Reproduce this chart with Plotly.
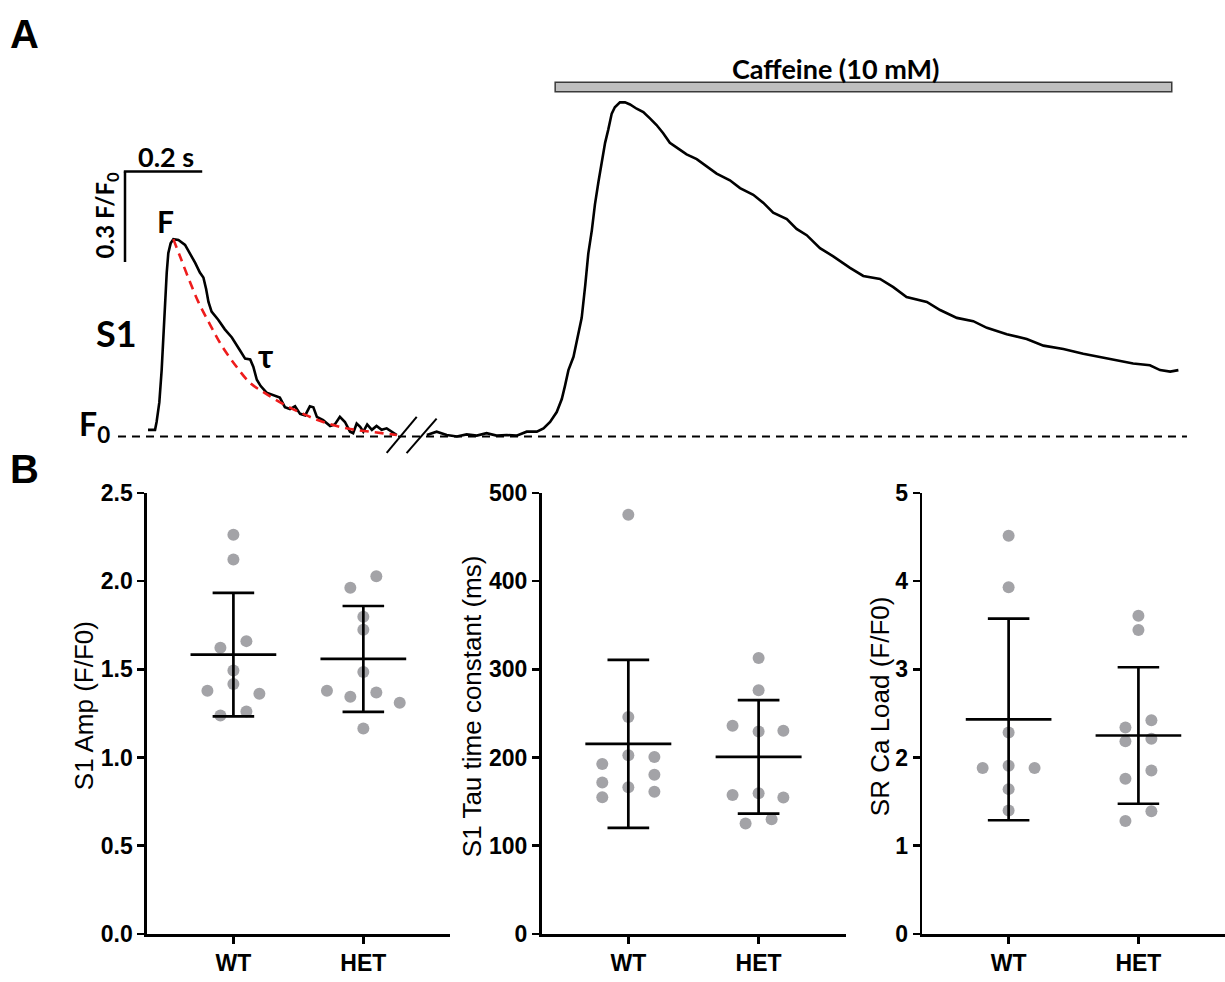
import plotly.graph_objects as go

W, H = 1225, 982

# ---------------- Panel A data (time in s, fluorescence F/F0) ----------------
s1_t = [0.000, 0.018, 0.022, 0.029, 0.035, 0.039, 0.044, 0.048, 0.052, 0.058,
        0.065, 0.078, 0.095, 0.108, 0.121, 0.133, 0.142, 0.149, 0.155, 0.163,
        0.180, 0.197, 0.215, 0.236, 0.249, 0.262, 0.270, 0.279, 0.289, 0.304,
        0.321, 0.338, 0.351, 0.364, 0.377, 0.390, 0.403, 0.415, 0.424, 0.433,
        0.449, 0.467, 0.479, 0.492, 0.505, 0.518, 0.526, 0.535, 0.544, 0.552,
        0.562, 0.574, 0.586, 0.599, 0.612, 0.625, 0.638]
s1_f = [1.022, 1.022, 1.048, 1.113, 1.220, 1.328, 1.435, 1.543, 1.607, 1.640,
        1.654, 1.651, 1.635, 1.607, 1.575, 1.543, 1.527, 1.489, 1.446, 1.414,
        1.387, 1.355, 1.328, 1.285, 1.258, 1.255, 1.231, 1.188, 1.167, 1.145,
        1.136, 1.129, 1.097, 1.091, 1.100, 1.075, 1.070, 1.100, 1.097, 1.065,
        1.054, 1.035, 1.040, 1.065, 1.048, 1.016, 1.011, 1.043, 1.032, 1.016,
        1.040, 1.022, 1.035, 1.022, 1.027, 1.016, 1.005]

fit_t = [0.065, 0.082, 0.103, 0.129, 0.159, 0.189, 0.227, 0.262, 0.296, 0.347,
         0.398, 0.449, 0.509, 0.569, 0.638]
fit_f = [1.654, 1.597, 1.527, 1.446, 1.371, 1.301, 1.231, 1.177, 1.147, 1.107,
         1.075, 1.048, 1.027, 1.016, 1.005]

caf_t = [0.715, 0.740, 0.766, 0.792, 0.817, 0.843, 0.868, 0.894, 0.920, 0.945,
         0.971, 0.997, 1.014, 1.031, 1.048, 1.061, 1.069, 1.078, 1.091, 1.103,
         1.112, 1.121, 1.129, 1.138, 1.146, 1.155, 1.163, 1.172, 1.180, 1.189,
         1.197, 1.210, 1.223, 1.236, 1.253, 1.270, 1.287, 1.304, 1.321, 1.338,
         1.356, 1.381, 1.407, 1.433, 1.458, 1.492, 1.518, 1.552, 1.578, 1.603,
         1.638, 1.663, 1.689, 1.723, 1.757, 1.800, 1.834, 1.877, 1.911, 1.945,
         1.997, 2.031, 2.074, 2.116, 2.151, 2.202, 2.253, 2.296, 2.347, 2.398,
         2.441, 2.484, 2.526, 2.569, 2.595, 2.621, 2.642]
caf_f = [1.005, 1.016, 1.005, 1.000, 1.007, 1.003, 1.011, 1.003, 1.005, 1.003,
         1.016, 1.016, 1.027, 1.048, 1.081, 1.124, 1.167, 1.220, 1.264, 1.339,
         1.393, 1.500, 1.607, 1.683, 1.769, 1.844, 1.909, 1.973, 2.016, 2.070,
         2.091, 2.107, 2.107, 2.100, 2.086, 2.075, 2.054, 2.032, 2.005, 1.973,
         1.957, 1.935, 1.919, 1.893, 1.871, 1.849, 1.823, 1.801, 1.774, 1.742,
         1.720, 1.688, 1.667, 1.624, 1.597, 1.559, 1.532, 1.522, 1.495, 1.462,
         1.446, 1.419, 1.393, 1.382, 1.360, 1.339, 1.323, 1.301, 1.290, 1.274,
         1.264, 1.253, 1.242, 1.236, 1.220, 1.215, 1.220]

# ---------------- Panel B data ----------------
groups = ["WT", "HET"]

amp_wt = [2.263, 2.123, 1.660, 1.623, 1.494, 1.417, 1.379, 1.362, 1.261, 1.239]
amp_het = [2.028, 1.963, 1.798, 1.724, 1.485, 1.379, 1.369, 1.344, 1.311, 1.164]
amp_wt_jit = [0, 0, 0.1, -0.1, 0, 0, -0.2, 0.2, 0.1, -0.1]
amp_het_jit = [0.1, -0.1, 0, 0, 0, -0.28, 0.1, -0.1, 0.28, 0]
amp_mean = [1.583, 1.559]
amp_sd = [0.350, 0.300]

tau_wt = [475.4, 246.0, 202.5, 200.7, 192.6, 180.4, 171.6, 166.4, 161.3, 155.0]
tau_het = [313.0, 276.2, 236.0, 230.5, 229.4, 159.4, 157.6, 154.6, 130.0, 125.2]
tau_wt_jit = [0, 0, 0, 0.2, -0.2, 0.2, -0.2, 0, 0.2, -0.2]
tau_het_jit = [0, 0, -0.2, 0.19, 0, 0, -0.2, 0.19, 0.1, -0.1]
tau_mean = [215.5, 200.8]
tau_sd = [95.2, 64.3]

load_wt = [4.514, 3.932, 2.283, 1.907, 1.881, 1.881, 1.642, 1.399]
load_het = [3.608, 3.446, 2.423, 2.342, 2.213, 2.184, 1.852, 1.760, 1.392, 1.281]
load_wt_jit = [0, 0, 0, 0, -0.2, 0.2, 0, 0]
load_het_jit = [0, 0, 0.1, -0.1, 0.1, -0.1, 0.1, -0.1, 0.1, -0.1]
load_mean = [2.432, 2.250]
load_sd = [1.143, 0.774]

panels = [
    dict(wt=amp_wt, het=amp_het, wj=amp_wt_jit, hj=amp_het_jit, mean=amp_mean, sd=amp_sd,
         yrange=[0, 2.5], dtick=0.5, fmt=".1f", title="S1 Amp (F/F0)"),
    dict(wt=tau_wt, het=tau_het, wj=tau_wt_jit, hj=tau_het_jit, mean=tau_mean, sd=tau_sd,
         yrange=[0, 500], dtick=100, fmt="d", title="S1 Tau time constant (ms)"),
    dict(wt=load_wt, het=load_het, wj=load_wt_jit, hj=load_het_jit, mean=load_mean, sd=load_sd,
         yrange=[0, 5], dtick=1, fmt="d", title="SR Ca Load (F/F0)"),
]

# ---------------- helpers for layout positions (pixels -> paper) ----------------
def px(x):
    return x / W

def py(y):
    return 1 - y / H

fig = go.Figure()

# ---- Panel A traces ----
fig.add_trace(go.Scatter(x=s1_t, y=s1_f, mode="lines", line=dict(color="black", width=2.6),
                         xaxis="x", yaxis="y", showlegend=False, hoverinfo="skip"))
fig.add_trace(go.Scatter(x=fit_t, y=fit_f, mode="lines", line=dict(color="#ee1c1c", width=2.6, dash="9px,6px", shape="spline"),
                         xaxis="x", yaxis="y", showlegend=False, hoverinfo="skip"))
fig.add_trace(go.Scatter(x=caf_t, y=caf_f, mode="lines", line=dict(color="black", width=2.6),
                         xaxis="x", yaxis="y", showlegend=False, hoverinfo="skip"))

# ---- Panel B traces ----
dot_color = "#a3a3a7"
for i, p in enumerate(panels):
    xa = "x%d" % (i + 2)
    ya = "y%d" % (i + 2)
    xs = [0 + j for j in p["wj"]] + [1 + j for j in p["hj"]]
    ys = p["wt"] + p["het"]
    fig.add_trace(go.Scatter(x=xs, y=ys, mode="markers",
                             marker=dict(color=dot_color, size=12, line=dict(width=0)),
                             xaxis=xa, yaxis=ya, showlegend=False, hoverinfo="skip", cliponaxis=False))
    ex, ey = [], []
    for c, (m, s) in enumerate(zip(p["mean"], p["sd"])):
        ex += [c - 0.33, c + 0.33, None, c, c, None, c - 0.16, c + 0.16, None, c - 0.16, c + 0.16, None]
        ey += [m, m, None, m - s, m + s, None, m + s, m + s, None, m - s, m - s, None]
    fig.add_trace(go.Scatter(x=ex, y=ey, mode="lines", line=dict(color="black", width=2.7),
                             xaxis=xa, yaxis=ya, showlegend=False, hoverinfo="skip", cliponaxis=False))

# ---------------- Layout ----------------
layout = dict(
    width=W, height=H,
    margin=dict(l=0, r=0, t=0, b=0),
    paper_bgcolor="white", plot_bgcolor="rgba(0,0,0,0)",
    showlegend=False,
)

# Panel A axes (hidden), ranges chosen so 0.2 s / 0.3 F/F0 scale bars read correctly
layout["xaxis"] = dict(domain=[0, 1], range=[-0.3795, 2.7615], visible=False, fixedrange=True)
layout["yaxis"] = dict(domain=[py(460), 1], range=[0.9194, 2.4032], visible=False, fixedrange=True)

bx = [(147, 450), (541.7, 845.5), (922.3, 1225)]
tick_font = dict(family="Liberation Sans, Arial", size=23, color="black", weight="bold")
for i, p in enumerate(panels):
    layout["xaxis%d" % (i + 2)] = dict(
        domain=[px(bx[i][0]), min(1, px(bx[i][1]))], range=[-0.665, 1.667], anchor="y%d" % (i + 2),
        tickvals=[0, 1], ticktext=groups, ticks="outside", ticklen=7, tickwidth=2.5, tickcolor="black",
        showline=True, linecolor="black", linewidth=2.7, showgrid=False, zeroline=False,
        tickfont=tick_font, fixedrange=True)
    layout["yaxis%d" % (i + 2)] = dict(
        domain=[py(946), py(493)], range=p["yrange"], anchor="x%d" % (i + 2),
        dtick=p["dtick"], tick0=0, tickformat=p["fmt"], ticks="outside", ticklen=7, tickwidth=2.5,
        tickcolor="black", showline=True, linecolor="black", linewidth=2.7, showgrid=False,
        zeroline=False, tickfont=tick_font, fixedrange=True)

ann = []
title_x = [84, 472, 880]
for i, p in enumerate(panels):
    ann.append(dict(text=p["title"], x=px(title_x[i]), y=py(712), xref="paper", yref="paper",
                    textangle=-90, showarrow=False, xanchor="center", yanchor="middle",
                    font=dict(family="Liberation Sans, Arial", size=26, color="black")))

cal = "Lato, Carlito, Calibri, sans-serif"
def lab(text, x, y, size, angle=0, family=cal):
    ann.append(dict(text=text, x=px(x), y=py(y), xref="paper", yref="paper", showarrow=False,
                    xanchor="center", yanchor="middle", textangle=angle,
                    font=dict(family=family, size=size, color="black", weight="bold")))

lab("A", 24, 22, 40, family="Liberation Sans, Arial")
lab("B", 24, 468, 40, family="Liberation Sans, Arial")
lab("0.2 s", 166, 147, 27)
lab("0.3 F/F<sub>0</sub>", 106, 208, 24, angle=-90)
lab("F", 165, 214, 30)
lab("S1", 117, 329, 36)
lab("τ", 265, 352, 32)
lab("F<sub>0</sub>", 94, 424, 32)
lab("Caffeine (10 mM)", 835, 57, 27)
layout["annotations"] = ann

shapes = []
# baseline F0 dashed
shapes.append(dict(type="line", xref="x", yref="y", x0=-0.077, x1=2.664, y0=1.0, y1=1.0,
                   line=dict(color="black", width=2, dash="8px,6px")))
# scale bars
shapes.append(dict(type="line", xref="x", yref="y", x0=-0.062, x1=0.139, y0=1.878, y1=1.878,
                   line=dict(color="black", width=2.5)))
shapes.append(dict(type="line", xref="x", yref="y", x0=-0.059, x1=-0.059, y0=1.878, y1=1.578,
                   line=dict(color="black", width=2.5)))
# axis break marks
shapes.append(dict(type="line", xref="x", yref="y", x0=0.612, y0=0.946, x1=0.689, y1=1.065,
                   line=dict(color="black", width=2)))
shapes.append(dict(type="line", xref="x", yref="y", x0=0.663, y0=0.945, x1=0.740, y1=1.059,
                   line=dict(color="black", width=2)))
# caffeine application bar
shapes.append(dict(type="rect", xref="x", yref="y", x0=1.044, x1=2.625, y0=2.142, y1=2.174,
                   fillcolor="#bfbfbf", line=dict(color="#3a3a3a", width=1.5)))
layout["shapes"] = shapes

fig.update_layout(**layout)
fig.write_html("out.html", config={"displayModeBar": False, "staticPlot": True},
               post_script="document.body.style.margin='0';document.body.style.padding='0';document.body.style.overflow='hidden';")
